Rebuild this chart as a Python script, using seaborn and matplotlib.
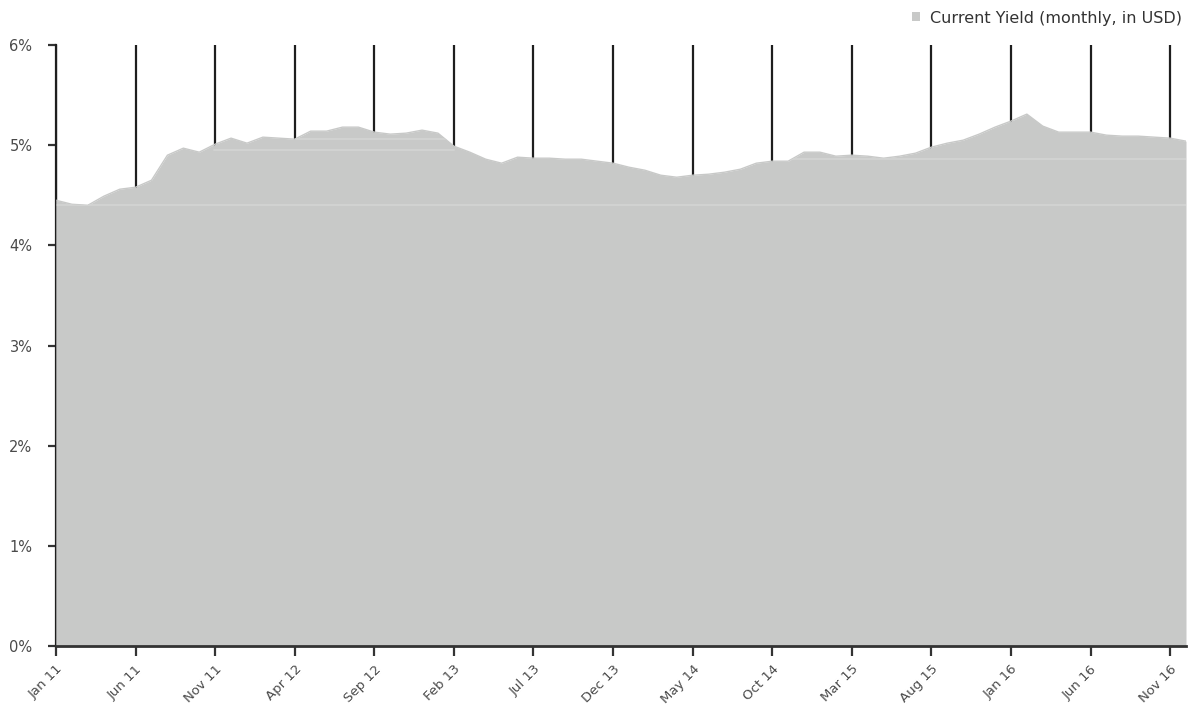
import matplotlib
matplotlib.use("Agg")
import matplotlib.pyplot as plt
import matplotlib.ticker as mticker
import numpy as np
import pandas as pd
import seaborn as sns

# Monthly current yield, Jan 2011 - Dec 2016 (percent)
months = pd.date_range("2011-01-01", periods=72, freq="MS")
yield_pct = [
    4.45, 4.41, 4.40, 4.49, 4.56, 4.58, 4.65, 4.90, 4.97, 4.93, 5.01, 5.07,
    5.02, 5.08, 5.07, 5.06, 5.14, 5.14, 5.18, 5.18, 5.13, 5.11, 5.12, 5.15,
    5.12, 4.99, 4.93, 4.86, 4.82, 4.88, 4.87, 4.87, 4.86, 4.86, 4.84, 4.82,
    4.78, 4.75, 4.70, 4.68, 4.70, 4.71, 4.73, 4.76, 4.82, 4.84, 4.84, 4.93,
    4.93, 4.89, 4.90, 4.89, 4.87, 4.89, 4.92, 4.98, 5.02, 5.05, 5.11, 5.18,
    5.24, 5.31, 5.19, 5.13, 5.13, 5.13, 5.10, 5.09, 5.09, 5.08, 5.07, 5.04,
]
series_name = "Current Yield (monthly, in USD)"
y_ticks = [0, 1, 2, 3, 4, 5, 6]
tick_step = 5  # one labelled tick every five months

df = pd.DataFrame({"idx": np.arange(len(months)), "month": months, "yield": yield_pct})
month_labels = [m.strftime("%b %y") for m in months]

sns.set_theme(style="white")
plt.rcParams["font.family"] = ["DejaVu Sans"]

fill_color = "#c8c9c8"
text_color = "#4a4a4a"

fig = plt.figure(figsize=(11.99, 7.10), dpi=100)
ax = fig.add_axes([56 / 1199, 1 - 646 / 710, (1186 - 56) / 1199, (646 - 45) / 710])

# filled area under the yield curve
ax.fill_between(df["idx"], 0, df["yield"], color=fill_color, linewidth=0,
                zorder=2, label=series_name)
sns.lineplot(data=df, x="idx", y="yield", ax=ax, color=fill_color,
             linewidth=1.0, zorder=2.1, legend=False)

# faint lighter bands running through the fill
clip = ax.fill_between(df["idx"], 0, df["yield"], color="none", linewidth=0)
bands = [(4.40, 0, 71), (4.95, 9.9, 25), (5.06, 15, 25), (4.86, 46, 71)]
for level, x0, x1 in bands:
    ln, = ax.plot([x0, x1], [level, level], color="#d3d4d3", lw=1.3, zorder=2.5)
    ln.set_clip_path(clip.get_paths()[0], ax.transData)

# vertical grid lines sit behind the fill
ax.set_axisbelow(True)
ax.grid(axis="x", color="#1e1e1e", linewidth=1.6)
ax.grid(axis="y", visible=False)

ax.set_xlim(0, len(months) - 1)
ax.set_ylim(0, 6)
tick_pos = list(range(0, len(months), tick_step))
ax.set_xticks(tick_pos)
ax.set_xticklabels([month_labels[i] for i in tick_pos], rotation=45,
                   ha="right", va="top", rotation_mode="anchor",
                   fontsize=9.5, color=text_color)
ax.set_yticks(y_ticks)
ax.yaxis.set_major_formatter(mticker.FuncFormatter(lambda v, p: f"{v:.0f}%"))
for lab in ax.get_yticklabels():
    lab.set_fontsize(10.5)
    lab.set_color(text_color)

ax.tick_params(axis="y", direction="out", length=6, width=1.6, color="#333333",
               pad=11, left=True)
ax.tick_params(axis="x", direction="out", length=7, width=1.6, color="#333333",
               pad=5, bottom=True)

for side in ["top", "right"]:
    ax.spines[side].set_visible(False)
ax.spines["left"].set_color("#1e1e1e")
ax.spines["left"].set_linewidth(1.6)
ax.spines["left"].set_zorder(1)
ax.spines["bottom"].set_color("#333333")
ax.spines["bottom"].set_linewidth(2)
ax.spines["bottom"].set_zorder(3)
# grey edge along the left side of the fill
ax.vlines(0, 0, yield_pct[0], color="#9a9a9a", lw=1.2, zorder=2.6)

ax.set_xlabel("")
ax.set_ylabel("")

leg = ax.legend(loc="center left", bbox_to_anchor=(912 / 1199, 1 - 18 / 710),
                bbox_transform=fig.transFigure, frameon=False,
                handlelength=0.5, handleheight=0.5, handletextpad=0.6,
                fontsize=11.5, borderaxespad=0, borderpad=0)
for t in leg.get_texts():
    t.set_color("#333333")

fig.savefig("out.png", dpi=100)
